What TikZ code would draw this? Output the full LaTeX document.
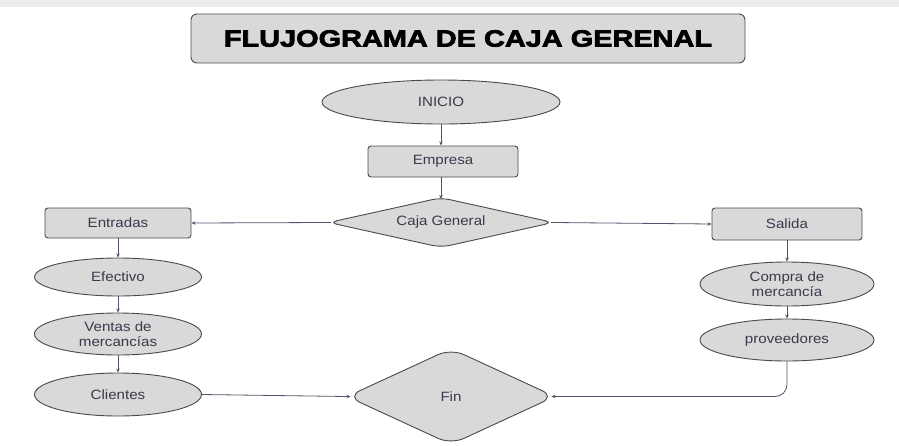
\documentclass[tikz,border=0pt]{standalone}
\usepackage{fontspec}
\setmainfont[FakeStretch=1.12]{Liberation Sans}
\newfontfamily\titlefont[FakeBold=3,FakeStretch=1.23]{Liberation Sans Bold}
\usetikzlibrary{shapes.geometric,arrows.meta}
\definecolor{boxfill}{HTML}{D9D9D9}
\definecolor{edge}{HTML}{4A4A4A}
\definecolor{conn}{HTML}{50566A}
\definecolor{txt}{HTML}{3A3A4C}
\tikzset{
  base/.style={draw=edge, fill=boxfill, line width=0.9pt, text=txt, font=\fontsize{13.5}{15.5}\selectfont, align=center, inner sep=0pt},
  ell/.style={base, ellipse},
  rbox/.style={base, rectangle, rounded corners=3pt},
  dia/.style={base, diamond, rounded corners=9pt},
  arr/.style={draw=conn, line width=0.8pt, -{Stealth[length=4pt,width=3.5pt]}},
}
\begin{document}
\begin{tikzpicture}[x=1pt,y=-1pt]
\useasboundingbox (0,0) rectangle (899,445);
\fill[gray!15] (0,0) rectangle (899,7);
\node[rbox, minimum width=554pt, minimum height=49pt, rounded corners=6pt, font=\titlefont\fontsize{23.5}{26}\selectfont, text=black] (title) at (468,38.5) {FLUJOGRAMA DE CAJA GERENAL};
\node[ell, minimum width=238pt, minimum height=44pt] (inicio) at (441,102) {INICIO};
\node[rbox, minimum width=150pt, minimum height=31pt] (empresa) at (443,161.5) {Empresa};
\node[dia, minimum width=225pt, minimum height=50pt, aspect=4.5] (caja) at (441,222.5) {Caja General};
\node[rbox, minimum width=146pt, minimum height=30pt] (entradas) at (118,223) {Entradas};
\node[rbox, minimum width=150pt, minimum height=32pt] (salida) at (787,224) {Salida};
\node[ell, minimum width=167pt, minimum height=38pt] (efectivo) at (118,277) {Efectivo};
\node[ell, minimum width=167pt, minimum height=42pt] (ventas) at (118,334) {Ventas de\\mercancías};
\node[ell, minimum width=167pt, minimum height=43pt] (clientes) at (118,394.5) {Clientes};
\node[dia, minimum width=208pt, minimum height=96pt, aspect=2.16, rounded corners=14pt] (fin) at (451,396.5) {Fin};
\node[ell, minimum width=174pt, minimum height=44pt] (compra) at (787,284) {Compra de\\mercancía};
\node[ell, minimum width=174pt, minimum height=42pt] (prov) at (787,340) {proveedores};
\draw[arr] (inicio.south) -- (inicio.south |- empresa.north);
\draw[arr, shorten >=-2pt] (empresa.south -| caja.north) -- (caja.north);
\draw[arr, shorten <=-3pt] (caja.west) -- (entradas.east);
\draw[arr, shorten <=-3pt] (caja.east) -- (salida.west);
\draw[arr] (entradas.south) -- (efectivo.north);
\draw[arr] (efectivo.south) -- (ventas.north);
\draw[arr] (ventas.south) -- (clientes.north);
\draw[arr, shorten >=-4pt] (clientes.east) -- (fin.west);
\draw[arr] (salida.south) -- (compra.north);
\draw[arr] (compra.south) -- (prov.north);
\draw[arr, rounded corners=12pt, shorten >=-4pt] (prov.south) |- (fin.east);
\end{tikzpicture}
\end{document}
